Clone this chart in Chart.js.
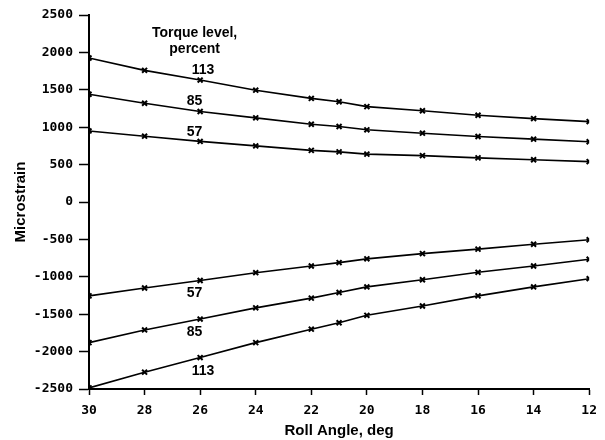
<!DOCTYPE html>
<html>
<head>
<meta charset="utf-8">
<script src="https://cdn.jsdelivr.net/npm/chart.js@4"></script>
<style>
  html, body { margin: 0; padding: 0; background: #fff; }
  #wrap { width: 605px; height: 440px; position: relative; }
</style>
</head>
<body>
<div id="wrap"><canvas id="chart"></canvas></div>
<script>
// roll angle, deg (plotted right to left)
const rollAngles = [30, 28, 26, 24, 22, 21, 20, 18, 16, 14, 12];
const xTicks = [30, 28, 26, 24, 22, 20, 18, 16, 14, 12];
const yTicks = [2500, 2000, 1500, 1000, 500, 0, -500, -1000, -1500, -2000, -2500];

// microstrain, tension side
const top113 = [1925, 1760, 1630, 1495, 1385, 1340, 1275, 1220, 1160, 1115, 1075];
const top85 = [1440, 1320, 1210, 1125, 1040, 1010, 965, 920, 875, 840, 805];
const top57 = [950, 880, 810, 750, 690, 670, 640, 620, 590, 565, 540];
// microstrain, compression side
const bot57 = [-1255, -1150, -1050, -945, -855, -810, -760, -690, -630, -565, -505];
const bot85 = [-1880, -1710, -1565, -1415, -1285, -1210, -1135, -1040, -940, -855, -765];
const bot113 = [-2485, -2275, -2080, -1880, -1700, -1615, -1515, -1390, -1255, -1135, -1025];

// curve labels: [text, roll angle, microstrain]
const curveLabels = [
    ['Torque level,', 26.2, 2255],
    ['percent', 26.2, 2040],
    ['113', 25.9, 1765],
    ['85', 26.2, 1350],
    ['57', 26.2, 930],
    ['57', 26.2, -1220],
    ['85', 26.2, -1740],
    ['113', 25.9, -2255]
];

const toPoints = (vals) => vals.map((v, i) => ({ x: rollAngles[i], y: v }));

const series = [top113, top85, top57, bot57, bot85, bot113].map(vals => ({
    data: toPoints(vals),
    borderColor: '#000',
    backgroundColor: '#000',
    borderWidth: 1.6,
    pointStyle: 'crossRot',
    pointRadius: 3.5,
    pointBorderWidth: 2,
    tension: 0,
    fill: false
}));

const labelPlugin = {
    id: 'curveLabels',
    afterDatasetsDraw(chart) {
        const { ctx, scales } = chart;
        ctx.save();
        ctx.fillStyle = '#000';
        ctx.font = 'bold 14px "Liberation Sans", Arial, sans-serif';
        ctx.textAlign = 'center';
        ctx.textBaseline = 'middle';
        curveLabels.forEach(([txt, xv, yv]) => {
            ctx.fillText(txt, scales.x.getPixelForValue(xv), scales.y.getPixelForValue(yv));
        });
        ctx.restore();
    }
};

const tickFont = { family: '"DejaVu Sans Mono", monospace', size: 13, weight: 'bold' };
const titleFont = { family: '"Liberation Sans", Arial, sans-serif', size: 15, weight: 'bold' };

new Chart(document.getElementById('chart'), {
    type: 'line',
    data: { datasets: series },
    options: {
        responsive: true,
        maintainAspectRatio: false,
        animation: false,
        layout: { padding: { top: 15, right: 15, left: 0, bottom: 0 } },
        plugins: { legend: { display: false }, tooltip: { enabled: false } },
        scales: {
            x: {
                type: 'linear',
                reverse: true,
                min: 12,
                max: 30,
                afterBuildTicks: (s) => { s.ticks = xTicks.map(v => ({ value: v })); },
                afterFit: (s) => { s.height = 51; },
                ticks: { color: '#000', font: tickFont, padding: 8, maxRotation: 0 },
                grid: { drawOnChartArea: false, color: '#000', tickLength: 6, tickWidth: 1.5 },
                border: { color: '#000', width: 2 },
                title: { display: true, text: 'Roll Angle, deg', color: '#000', font: titleFont, padding: { top: 0, bottom: 0 } }
            },
            y: {
                min: -2500,
                max: 2500,
                afterBuildTicks: (s) => { s.ticks = yTicks.map(v => ({ value: v })); },
                afterFit: (s) => { s.width = 89; },
                ticks: { color: '#000', font: tickFont, padding: 6, callback: (v) => String(v) },
                grid: { drawOnChartArea: false, color: '#000', tickLength: 10, tickWidth: 1.5 },
                border: { color: '#000', width: 2 },
                title: { display: true, text: 'Microstrain', color: '#000', font: titleFont, padding: { top: 12, bottom: 0 } }
            }
        }
    },
    plugins: [labelPlugin]
});
</script>
</body>
</html>
